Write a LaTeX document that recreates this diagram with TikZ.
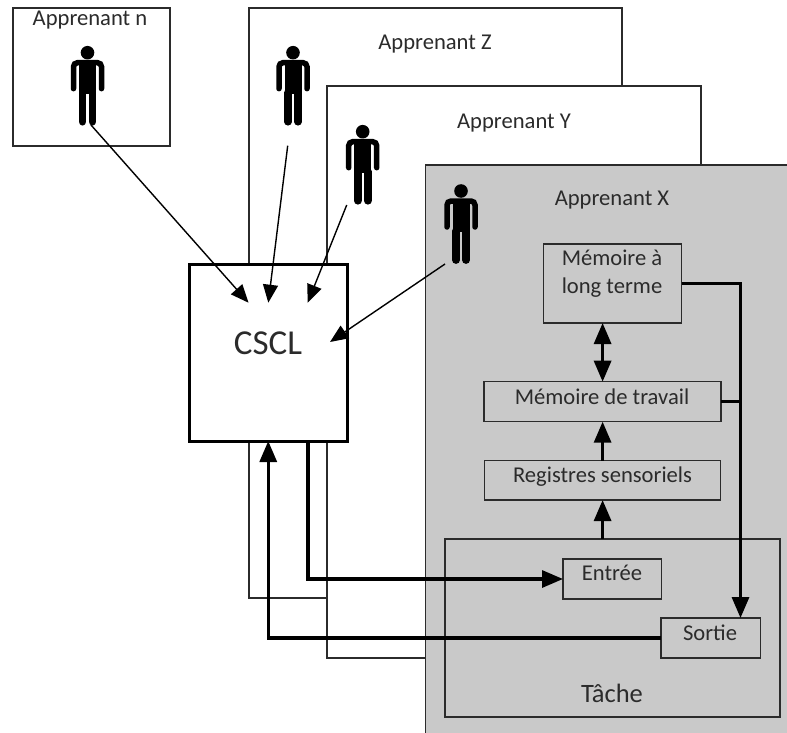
\documentclass[tikz,border=0pt]{standalone}
\usepackage{fontspec}
\setmainfont{Carlito}
\usetikzlibrary{arrows.meta}
\definecolor{ink}{HTML}{2B2B2B}
\definecolor{panel}{HTML}{C9C9C9}
\tikzset{
  x=1pt,y=-1pt,
  frame/.style={draw=ink,line width=1.3pt,inner sep=0pt,outer sep=0pt,fill=#1},
  frame/.default=none,
  txt/.style={text=ink,inner sep=0pt,anchor=base,font=\fontsize{22.6}{26}\selectfont,align=center},
  thin arrow/.style={draw=black,line width=1.4pt,-{Triangle[length=18pt,width=15pt,fill=black]}},
  thick link/.style={draw=black,line width=3.2pt},
  thick arrow/.style={thick link,-{Triangle[length=21pt,width=17pt,fill=black]}},
  person/.pic={
    \fill[black] (0,0) circle[radius=6.8];
    \fill[black] (-8.5,8) rectangle (8.5,41);
    \draw[black,line width=5.5pt,line cap=round,rounded corners=4pt] (-14,36)--(-14,10)--(14,10)--(14,36);
    \draw[black,line width=7.8pt,line cap=round] (-5,40)--(-5,69) (5,40)--(5,69);
  }
}
\begin{document}
\begin{tikzpicture}
\useasboundingbox (0,0) rectangle (787,733);
% learner frames
\node[frame=white,minimum width=157pt,minimum height=138pt] (n) at (91.5,77) {};
\node[frame=white,minimum width=373pt,minimum height=590pt] (Z) at (435.5,303) {};
\node[frame=white,minimum width=374pt,minimum height=572pt] (Y) at (514,372) {};
\node[fill=panel,inner sep=0pt,outer sep=0pt,minimum width=361.3pt,minimum height=568pt] (X) at (606.35,449) {};
\draw[ink,line width=1.3pt] (X.south west)--(X.north west)--(X.north east);
% labels
\node[txt] (ln) at (90,26) {Apprenant n};
\node[txt] (lz) at (435,49.5) {Apprenant Z};
\node[txt] (ly) at (514,128.5) {Apprenant Y};
\node[txt] (lx) at (612,205.5) {Apprenant X};
% people
\pic at (87.5,52.7) {person};
\pic at (293,52.7) {person};
\pic at (362.7,131.7) {person};
\pic at (461,191) {person};
% inner boxes
\node[frame,minimum width=335pt,minimum height=178pt] (tache) at (612.5,628) {};
\node[frame,minimum width=138.4pt,minimum height=79pt] (lt) at (612.5,283.5) {};
\node[frame,minimum width=237pt,minimum height=40pt] (travail) at (602.5,401.7) {};
\node[frame,minimum width=236.3pt,minimum height=39.3pt] (registres) at (602.6,480.4) {};
\node[frame,minimum width=98.6pt,minimum height=40pt] (entree) at (612.3,579) {};
\node[frame,minimum width=99.5pt,minimum height=40pt] (sortie) at (710.7,638) {};
\node[frame=white,line width=3pt,draw=black,minimum width=157.5pt,minimum height=177pt] (cscl) at (268.25,352.5) {};
\node[txt,font=\fontsize{35}{40}\selectfont] (lc) at (268,354.5) {CSCL};
\node[txt] (l1) at (612,265.5) {Mémoire à};
\node[txt] (l2) at (612,293.5) {long terme};
\node[txt] (l3) at (602,404) {Mémoire de travail};
\node[txt] (l4) at (602.5,482.5) {Registres sensoriels};
\node[txt] (l5) at (612,580) {Entrée};
\node[txt] (l6) at (710,640) {Sortie};
\node[txt,font=\fontsize{26.5}{30}\selectfont] (l7) at (612,702.5) {Tâche};
% free ends
\coordinate (fn) at (91,125);
\coordinate (tn) at (248.5,302.7);
\coordinate (fz) at (287.7,145.7);
\coordinate (tz) at (268.3,302.7);
\coordinate (fy) at (346.7,205);
\coordinate (ty) at (307.7,302.7);
\coordinate (fx) at (445,264);
\coordinate (tx) at (330,342);
\coordinate (spine) at (602.6,0);
\coordinate (outx) at (308,0);
\coordinate (drop) at (740.5,618);
% connectors
\draw[thin arrow] (fn)--(tn);
\draw[thin arrow] (fz)--(tz);
\draw[thin arrow] (fy)--(ty);
\draw[thin arrow] (fx)--(tx);
\draw[thick arrow,{Triangle[length=21pt,width=17pt,fill=black]}-{Triangle[length=21pt,width=17pt,fill=black]}] (spine |- lt.south)--(spine |- travail.north);
\draw[thick arrow] (spine |- registres.north)--(spine |- travail.south);
\draw[thick arrow] (spine |- tache.north)--(spine |- registres.south);
\draw[thick arrow] (lt.east) -| (drop);
\draw[thick link] (travail.east)--(travail.east -| drop);
\draw[thick arrow] (outx |- cscl.south) |- (entree.west);
\draw[thick arrow] (sortie.west) -| (cscl.south);
\end{tikzpicture}
\end{document}
